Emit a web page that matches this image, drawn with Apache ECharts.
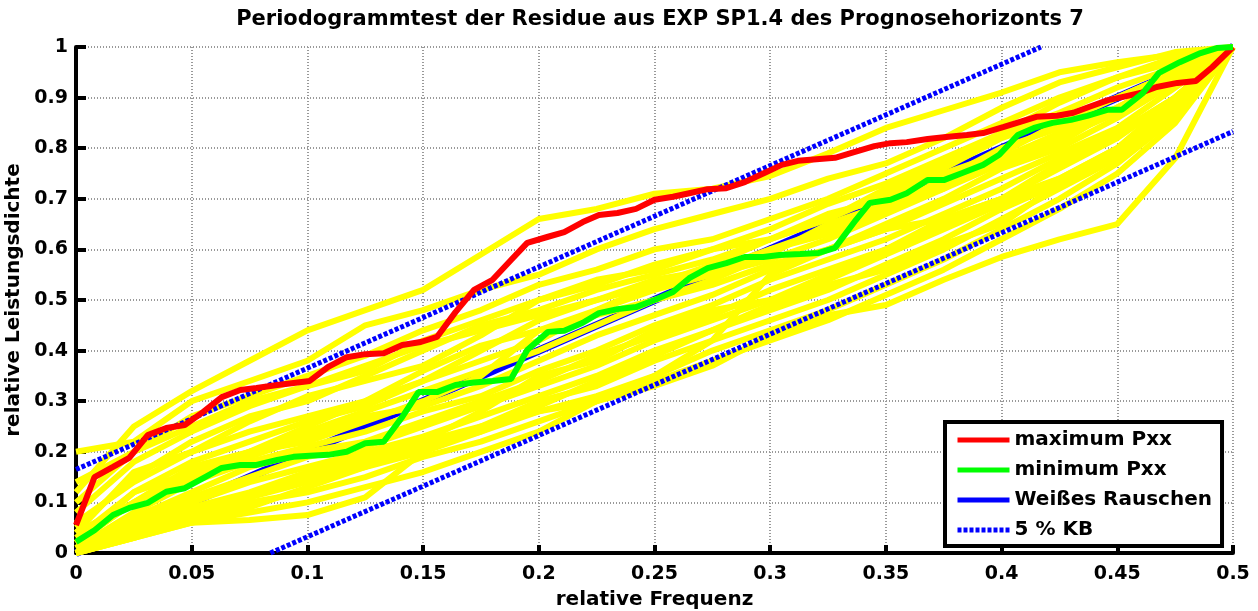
<!DOCTYPE html>
<html>
<head>
<meta charset="utf-8">
<script src="https://cdn.jsdelivr.net/npm/echarts@6/dist/echarts.min.js"></script>
<style>
  html, body { margin: 0; padding: 0; background: #fff; }
  #chart { width: 1258px; height: 611px; }
</style>
</head>
<body>
<div id="chart"></div>
<script>
// Cumulative periodograms (relative power density vs relative frequency)
const maxPxx = [[0,0.055],[0.008,0.15],[0.016,0.17],[0.023,0.188],[0.031,0.233],[0.039,0.247],[0.047,0.253],[0.055,0.279],[0.063,0.308],[0.071,0.322],[0.078,0.326],[0.087,0.332],[0.094,0.336],[0.101,0.34],[0.109,0.368],[0.117,0.387],[0.125,0.393],[0.133,0.395],[0.141,0.411],[0.149,0.417],[0.156,0.427],[0.164,0.476],[0.172,0.52],[0.18,0.54],[0.188,0.579],[0.195,0.613],[0.204,0.625],[0.211,0.634],[0.219,0.654],[0.226,0.668],[0.234,0.672],[0.242,0.68],[0.25,0.698],[0.258,0.704],[0.265,0.711],[0.273,0.719],[0.281,0.721],[0.289,0.733],[0.297,0.75],[0.305,0.767],[0.312,0.775],[0.32,0.778],[0.328,0.781],[0.337,0.793],[0.345,0.804],[0.352,0.81],[0.359,0.812],[0.368,0.818],[0.376,0.822],[0.385,0.826],[0.392,0.83],[0.401,0.842],[0.408,0.852],[0.415,0.862],[0.424,0.864],[0.431,0.87],[0.438,0.882],[0.446,0.895],[0.452,0.901],[0.46,0.909],[0.467,0.921],[0.476,0.929],[0.484,0.933],[0.491,0.96],[0.5,1]];

const minPxx = [[0,0.022],[0.008,0.045],[0.016,0.075],[0.023,0.089],[0.031,0.099],[0.039,0.121],[0.047,0.128],[0.055,0.148],[0.063,0.168],[0.071,0.174],[0.078,0.174],[0.087,0.184],[0.094,0.19],[0.101,0.192],[0.109,0.194],[0.117,0.2],[0.125,0.217],[0.133,0.22],[0.141,0.269],[0.148,0.318],[0.156,0.318],[0.164,0.332],[0.172,0.337],[0.18,0.34],[0.188,0.344],[0.195,0.401],[0.204,0.437],[0.211,0.439],[0.219,0.455],[0.226,0.474],[0.234,0.482],[0.242,0.486],[0.25,0.5],[0.258,0.516],[0.265,0.543],[0.273,0.563],[0.281,0.573],[0.289,0.585],[0.297,0.585],[0.304,0.589],[0.313,0.591],[0.321,0.593],[0.328,0.603],[0.337,0.658],[0.343,0.692],[0.352,0.698],[0.359,0.711],[0.368,0.737],[0.375,0.737],[0.383,0.751],[0.392,0.767],[0.399,0.787],[0.407,0.826],[0.414,0.84],[0.422,0.85],[0.43,0.856],[0.437,0.864],[0.446,0.876],[0.452,0.876],[0.461,0.909],[0.468,0.949],[0.477,0.97],[0.486,0.988],[0.493,0.998],[0.5,1]];

const whiteNoise = [[0,0],[0.5,1]];
const kbUpper = [[0,0.165],[0.417,1]];
const kbLower = [[0.084,0],[0.5,0.833]];

// the other periodograms (yellow), sampled every 0.025
const yellowFreq = [0,0.025,0.05,0.075,0.1,0.125,0.15,0.175,0.2,0.225,0.25,0.275,0.3,0.325,0.35,0.375,0.4,0.425,0.45,0.475,0.5];
const periodograms = [
  [0.12,0.25,0.32,0.38,0.44,0.48,0.52,0.59,0.66,0.68,0.71,0.72,0.745,0.79,0.84,0.875,0.91,0.95,0.97,0.985,1],
  [0.2,0.22,0.3,0.34,0.38,0.45,0.48,0.52,0.55,0.6,0.64,0.67,0.7,0.74,0.77,0.82,0.88,0.93,0.96,0.99,1],
  [0.1,0.2,0.27,0.31,0.35,0.39,0.44,0.48,0.53,0.56,0.6,0.62,0.66,0.7,0.75,0.8,0.85,0.9,0.94,0.98,1],
  [0.08,0.18,0.24,0.29,0.33,0.36,0.42,0.46,0.5,0.54,0.56,0.6,0.64,0.69,0.73,0.78,0.83,0.87,0.92,0.96,1],
  [0.05,0.15,0.22,0.27,0.3,0.35,0.4,0.45,0.48,0.52,0.55,0.58,0.62,0.66,0.71,0.76,0.82,0.86,0.9,0.95,1],
  [0.04,0.16,0.2,0.24,0.27,0.3,0.34,0.4,0.46,0.5,0.54,0.56,0.6,0.64,0.68,0.74,0.8,0.84,0.88,0.94,1],
  [0.03,0.12,0.18,0.22,0.26,0.29,0.34,0.38,0.42,0.48,0.52,0.55,0.58,0.62,0.67,0.72,0.78,0.82,0.87,0.93,1],
  [0.02,0.1,0.17,0.2,0.24,0.28,0.32,0.36,0.4,0.45,0.5,0.53,0.57,0.6,0.65,0.7,0.76,0.8,0.86,0.93,1],
  [0.02,0.1,0.15,0.19,0.23,0.27,0.29,0.33,0.38,0.43,0.47,0.51,0.56,0.6,0.64,0.69,0.74,0.79,0.84,0.92,1],
  [0.01,0.08,0.14,0.18,0.21,0.24,0.28,0.31,0.36,0.4,0.45,0.49,0.54,0.58,0.62,0.67,0.72,0.78,0.83,0.9,1],
  [0.01,0.07,0.12,0.17,0.2,0.22,0.26,0.3,0.34,0.39,0.43,0.47,0.52,0.56,0.6,0.66,0.7,0.76,0.82,0.9,1],
  [0,0.06,0.11,0.15,0.19,0.21,0.25,0.29,0.33,0.37,0.42,0.46,0.5,0.54,0.59,0.64,0.69,0.74,0.8,0.89,1],
  [0,0.05,0.1,0.14,0.17,0.2,0.23,0.27,0.31,0.35,0.4,0.44,0.48,0.52,0.57,0.62,0.68,0.73,0.79,0.88,1],
  [0,0.04,0.09,0.12,0.16,0.19,0.22,0.25,0.3,0.33,0.38,0.42,0.46,0.5,0.55,0.6,0.66,0.72,0.78,0.87,1],
  [0,0.04,0.08,0.11,0.14,0.17,0.21,0.24,0.28,0.31,0.35,0.4,0.44,0.48,0.53,0.58,0.64,0.7,0.77,0.86,1],
  [0,0.03,0.07,0.1,0.12,0.15,0.19,0.22,0.26,0.3,0.34,0.38,0.42,0.46,0.51,0.56,0.62,0.68,0.75,0.85,1],
  [0,0.05,0.06,0.065,0.075,0.11,0.2,0.25,0.28,0.3,0.33,0.37,0.43,0.47,0.49,0.54,0.585,0.62,0.65,0.78,1],
  [0,0.03,0.06,0.08,0.1,0.13,0.16,0.2,0.24,0.3,0.35,0.42,0.55,0.6,0.64,0.66,0.7,0.74,0.8,0.9,1],
  [0.06,0.14,0.2,0.26,0.31,0.34,0.37,0.43,0.5,0.53,0.57,0.6,0.62,0.67,0.7,0.75,0.79,0.85,0.9,0.95,1],
  [0.02,0.12,0.16,0.2,0.22,0.26,0.3,0.35,0.44,0.48,0.53,0.55,0.6,0.63,0.68,0.72,0.77,0.81,0.88,0.94,1],
  [0,0.06,0.08,0.11,0.15,0.18,0.22,0.28,0.35,0.38,0.44,0.48,0.5,0.55,0.6,0.65,0.7,0.77,0.83,0.9,1],
  [0,0.03,0.06,0.09,0.13,0.17,0.2,0.24,0.29,0.34,0.39,0.44,0.49,0.53,0.56,0.61,0.65,0.73,0.8,0.88,1],
  [0.04,0.1,0.16,0.2,0.25,0.3,0.36,0.41,0.44,0.47,0.5,0.54,0.59,0.65,0.69,0.73,0.78,0.83,0.88,0.94,1],
  [0.14,0.2,0.25,0.3,0.33,0.37,0.41,0.44,0.47,0.5,0.53,0.57,0.62,0.66,0.72,0.77,0.83,0.89,0.94,0.97,1]
];

const legendNames = ["maximum Pxx", "minimum Pxx", "Weißes Rauschen", "5 % KB"];

const font = "DejaVu Sans";

const yellowSeries = periodograms.map((curve, k) => ({
  name: "pxx" + k,
  type: "line",
  data: yellowFreq.map((f, i) => [f, curve[i]]),
  symbol: "none",
  silent: true,
  z: 3,
  lineStyle: { color: "#ffff00", width: 6 },
}));

const kbStyle = { color: "#0000ff", width: 5, type: [4, 2] };

const option = {
  animation: false,
  backgroundColor: "#fff",
  title: {
    text: "Periodogrammtest der Residue aus EXP SP1.4 des Prognosehorizonts 7",
    left: 655,
    top: 4,
    textAlign: "center",
    textStyle: { fontFamily: font, fontSize: 21, fontWeight: "bold", color: "#000" },
  },
  grid: { left: 76, right: 25, top: 47, bottom: 58, outerBoundsMode: "none", containLabel: false },
  legend: {
    data: legendNames,
    orient: "vertical",
    left: 945,
    top: 422,
    itemWidth: 52,
    itemHeight: 14,
    itemGap: 10,
    padding: [8, 10, 6, 10],
    backgroundColor: "#fff",
    borderColor: "#000",
    borderWidth: 4,
    borderRadius: 0,
    itemStyle: { opacity: 0 },
    lineStyle: { width: 5 },
    textStyle: { fontFamily: font, fontSize: 20, fontWeight: "bold", color: "#000" },
  },
  xAxis: {
    type: "value",
    min: 0,
    max: 0.5,
    interval: 0.05,
    name: "relative Frequenz",
    nameLocation: "middle",
    nameGap: 37,
    nameTextStyle: { fontFamily: font, fontSize: 20, fontWeight: "bold", color: "#000" },
    axisLine: { show: true, onZero: false, lineStyle: { color: "#000", width: 4 } },
    axisTick: { show: true, inside: true, length: 8, lineStyle: { color: "#000", width: 4 } },
    axisLabel: { margin: 12, fontFamily: font, fontSize: 19, fontWeight: "bold", color: "#000" },
    splitLine: { show: true, lineStyle: { color: "#999", width: 2, type: [1, 2] } },
  },
  yAxis: {
    type: "value",
    min: 0,
    max: 1,
    interval: 0.1,
    name: "relative Leistungsdichte",
    nameLocation: "middle",
    nameGap: 50,
    nameTextStyle: { fontFamily: font, fontSize: 20, fontWeight: "bold", color: "#000" },
    axisLine: { show: true, onZero: false, lineStyle: { color: "#000", width: 4 } },
    axisTick: { show: true, inside: true, length: 10, lineStyle: { color: "#000", width: 4 } },
    axisLabel: { margin: 8, fontFamily: font, fontSize: 19, fontWeight: "bold", color: "#000" },
    splitLine: { show: true, lineStyle: { color: "#999", width: 2, type: [1, 2] } },
  },
  series: [
    {
      name: "Weißes Rauschen",
      type: "line",
      data: whiteNoise,
      symbol: "none",
      z: 2,
      lineStyle: { color: "#0000ff", width: 8 },
      itemStyle: { color: "#0000ff" },
    },
    ...yellowSeries,
    {
      name: "5 % KB",
      type: "line",
      data: kbUpper,
      symbol: "none",
      z: 4,
      lineStyle: kbStyle,
      itemStyle: { color: "#0000ff" },
    },
    {
      name: "5 % KB",
      type: "line",
      data: kbLower,
      symbol: "none",
      z: 4,
      lineStyle: kbStyle,
      itemStyle: { color: "#0000ff" },
    },
    {
      name: "maximum Pxx",
      type: "line",
      data: maxPxx,
      symbol: "none",
      z: 5,
      lineStyle: { color: "#ff0000", width: 6 },
      itemStyle: { color: "#ff0000" },
    },
    {
      name: "minimum Pxx",
      type: "line",
      data: minPxx,
      symbol: "none",
      z: 6,
      lineStyle: { color: "#00ff00", width: 6 },
      itemStyle: { color: "#00ff00" },
    },
  ],
};

const chart = echarts.init(document.getElementById("chart"));
chart.setOption(option);
window.addEventListener("resize", () => chart.resize());
</script>
</body>
</html>
